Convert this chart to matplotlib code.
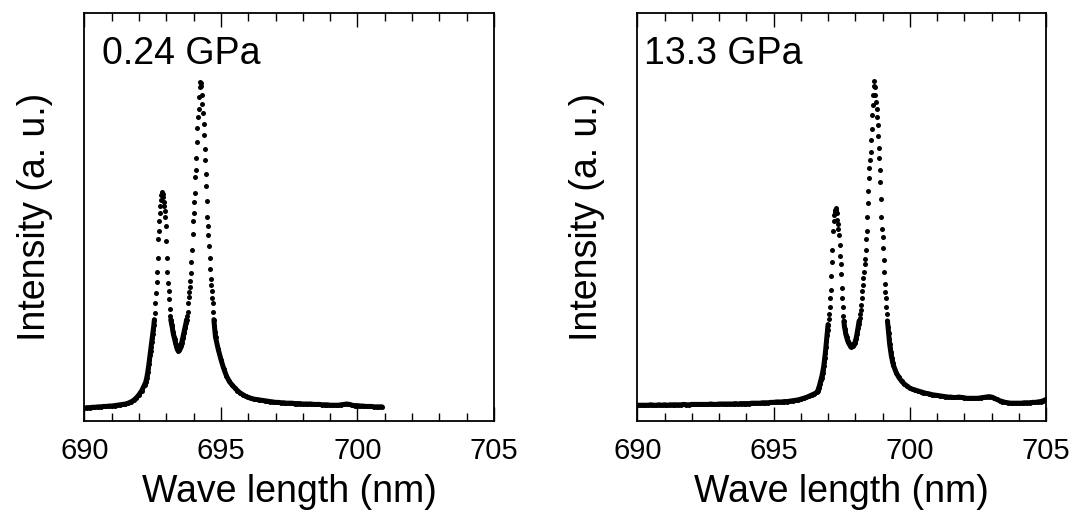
import matplotlib
matplotlib.use('Agg')
import matplotlib.pyplot as plt
import numpy as np
from matplotlib.ticker import MultipleLocator

plt.rcParams['font.family'] = ['Liberation Sans', 'DejaVu Sans']

# ---- data (intensity normalised to the axes height) ----
pressures = ['0.24 GPa', '13.3 GPa']
x_ticks = [690, 695, 700, 705]

# 0.24 GPa
left_x = [
    690.0, 690.1, 690.2, 690.3, 690.4, 690.5, 690.6, 690.7, 690.8, 690.9,
    691.0, 691.1, 691.2, 691.3, 691.4, 691.5, 691.6, 691.7, 691.8, 691.9,
    692.0, 692.1, 692.2,
    692.24, 692.26, 692.28, 692.30, 692.32, 692.34, 692.36, 692.38, 692.40, 692.42,
    692.44, 692.46, 692.48, 692.50, 692.52, 692.54, 692.56, 692.58, 692.60, 692.62,
    692.64, 692.66, 692.68, 692.70, 692.72, 692.74, 692.76, 692.78, 692.80, 692.82,
    692.84, 692.86, 692.88, 692.90, 692.92, 692.94, 692.96, 692.98, 693.00, 693.02,
    693.04, 693.06, 693.08, 693.10, 693.12, 693.14, 693.16, 693.18, 693.20, 693.22,
    693.24, 693.26, 693.28, 693.30, 693.32, 693.34, 693.36, 693.38, 693.40, 693.42,
    693.44, 693.46, 693.48, 693.50, 693.52, 693.54, 693.56, 693.58, 693.60, 693.62,
    693.64, 693.66, 693.68, 693.70, 693.72, 693.74, 693.76, 693.78, 693.80, 693.82,
    693.84, 693.86, 693.88, 693.90, 693.92, 693.94, 693.96, 693.98, 694.00, 694.02,
    694.04, 694.06, 694.08, 694.10, 694.12, 694.14, 694.16, 694.18, 694.20, 694.22,
    694.24, 694.26, 694.28, 694.30, 694.32, 694.34, 694.36, 694.38, 694.40, 694.42,
    694.44, 694.46, 694.48, 694.50, 694.52, 694.54, 694.56, 694.58, 694.60, 694.62,
    694.64, 694.66, 694.68, 694.70, 694.72, 694.74, 694.76, 694.78, 694.80,
    694.9, 695.0, 695.1, 695.2, 695.3, 695.4, 695.5, 695.6, 695.7, 695.8,
    695.9, 696.0, 696.1, 696.2, 696.3, 696.4, 696.5, 696.6, 696.7, 696.8,
    696.9, 697.0, 697.1, 697.2, 697.3, 697.4, 697.5, 697.6, 697.7, 697.8,
    697.9, 698.0, 698.1, 698.2, 698.3, 698.4, 698.5, 698.6, 698.7, 698.8,
    698.9, 699.0, 699.1, 699.2, 699.3, 699.4, 699.5, 699.6, 699.7, 699.8,
    699.9, 700.0, 700.1, 700.2, 700.3, 700.4, 700.5, 700.6, 700.7, 700.8,
    700.9,
]
left_y = [
    .031, .032, .032, .033, .033, .034, .034, .035, .035, .036,
    .036, .037, .038, .039, .040, .041, .043, .046, .050, .056,
    .064, .074, .088,
    .094, .099, .105, .112, .120, .129, .139, .150, .160, .172,
    .182, .192, .202, .212, .222, .234, .248, .265, .288, .313,
    .340, .366, .400, .445, .466, .490, .510, .527, .542, .555,
    .561, .556, .549, .538, .526, .515, .500, .478, .440, .400,
    .365, .338, .318, .298, .275, .258, .248, .241, .235, .228,
    .218, .212, .206, .200, .194, .189, .184, .179, .175, .173,
    .172, .173, .176, .179, .183, .187, .191, .197, .203, .209,
    .215, .221, .227, .233, .240, .248, .256, .268, .290, .303,
    .316, .328, .343, .362, .390, .420, .458, .490, .510, .538,
    .560, .598, .615, .645, .685, .718, .746, .765, .795, .818,
    .832, .830, .822, .800, .778, .756, .728, .702, .668, .640,
    .605, .575, .540, .500, .478, .455, .428, .400, .372, .348,
    .332, .318, .302, .288, .268, .248, .232, .218, .205,
    .175, .150, .128, .110, .097, .088, .081, .074, .068, .064,
    .060, .057, .055, .053, .052, .051, .050, .049, .048, .047,
    .046, .045, .045, .044, .044, .043, .043, .043, .042, .042,
    .042, .041, .041, .041, .041, .040, .040, .040, .039, .039,
    .039, .038, .038, .038, .038, .039, .040, .041, .040, .038,
    .037, .037, .036, .036, .035, .035, .035, .034, .034, .034,
    .034,
]

# 13.3 GPa
right_x = [
    690.0, 690.1, 690.2, 690.3, 690.4, 690.5, 690.6, 690.7, 690.8, 690.9,
    691.0, 691.1, 691.2, 691.3, 691.4, 691.5, 691.6, 691.7, 691.8, 691.9,
    692.0, 692.1, 692.2, 692.3, 692.4, 692.5, 692.6, 692.7, 692.8, 692.9,
    693.0, 693.1, 693.2, 693.3, 693.4, 693.5, 693.6, 693.7, 693.8, 693.9,
    694.0, 694.1, 694.2, 694.3, 694.4, 694.5, 694.6, 694.7, 694.8, 694.9,
    695.0, 695.1, 695.2, 695.3, 695.4, 695.5, 695.6, 695.7, 695.8, 695.9,
    696.0, 696.1, 696.2, 696.3, 696.4, 696.5, 696.6,
    696.62, 696.64, 696.66, 696.68, 696.70, 696.72, 696.74, 696.76, 696.78, 696.80,
    696.82, 696.84, 696.86, 696.88, 696.90, 696.92, 696.94, 696.96, 696.98, 697.00,
    697.02, 697.04, 697.06, 697.08, 697.10, 697.12, 697.14, 697.16, 697.18, 697.20,
    697.22, 697.24, 697.26, 697.28, 697.30, 697.32, 697.34, 697.36, 697.38, 697.40,
    697.42, 697.44, 697.46, 697.48, 697.50, 697.52, 697.54, 697.56, 697.58, 697.60,
    697.62, 697.64, 697.66, 697.68, 697.70, 697.72, 697.74, 697.76, 697.78, 697.80,
    697.82, 697.84, 697.86, 697.88, 697.90, 697.92, 697.94, 697.96, 697.98, 698.00,
    698.02, 698.04, 698.06, 698.08, 698.10, 698.12, 698.14, 698.16, 698.18, 698.20,
    698.22, 698.24, 698.26, 698.28, 698.30, 698.32, 698.34, 698.36, 698.38, 698.40,
    698.42, 698.44, 698.46, 698.48, 698.50, 698.52, 698.54, 698.56, 698.58, 698.60,
    698.62, 698.64, 698.66, 698.68, 698.70, 698.72, 698.74, 698.76, 698.78, 698.80,
    698.82, 698.84, 698.86, 698.88, 698.90, 698.92, 698.94, 698.96, 698.98, 699.00,
    699.02, 699.04, 699.06, 699.08, 699.10, 699.12, 699.14, 699.16, 699.18, 699.20,
    699.22, 699.24, 699.26, 699.28, 699.30, 699.32, 699.34, 699.36, 699.38, 699.40,
    699.5, 699.6, 699.7, 699.8, 699.9, 700.0, 700.1, 700.2, 700.3, 700.4,
    700.5, 700.6, 700.7, 700.8, 700.9, 701.0, 701.1, 701.2, 701.3, 701.4,
    701.5, 701.6, 701.7, 701.8, 701.9, 702.0, 702.1, 702.2, 702.3, 702.4,
    702.5, 702.6, 702.7, 702.8, 702.9, 703.0, 703.1, 703.2, 703.3, 703.4,
    703.5, 703.6, 703.7, 703.8, 703.9, 704.0, 704.1, 704.2, 704.3, 704.4,
    704.5, 704.6, 704.7, 704.8, 704.9, 705.0,
]
right_y = [
    .038, .038, .038, .038, .038, .039, .038, .038, .039, .038,
    .039, .038, .039, .039, .039, .039, .039, .040, .039, .039,
    .040, .040, .040, .040, .040, .040, .040, .041, .040, .040,
    .041, .041, .041, .041, .041, .041, .042, .041, .042, .042,
    .042, .042, .043, .043, .043, .043, .044, .044, .044, .045,
    .045, .046, .046, .046, .047, .047, .048, .049, .050, .051,
    .053, .055, .057, .060, .063, .066, .070,
    .073, .077, .081, .085, .090, .095, .100, .105, .111, .118,
    .125, .133, .143, .155, .166, .180, .196, .210, .222, .236,
    .250, .262, .280, .300, .320, .355, .390, .420, .465, .490,
    .505, .512, .518, .521, .518, .509, .493, .482, .470, .455,
    .432, .405, .385, .360, .325, .300, .280, .258, .244, .232,
    .224, .217, .210, .205, .200, .196, .193, .190, .188, .186,
    .184, .183, .182, .183, .184, .186, .187, .189, .191, .195,
    .200, .205, .212, .220, .228, .237, .245, .253, .262, .272,
    .285, .300, .318, .332, .350, .365, .385, .398, .420, .445,
    .465, .500, .535, .565, .595, .620, .640, .660, .690, .715,
    .750, .775, .800, .822, .834, .818, .800, .782, .765, .745,
    .725, .700, .670, .645, .615, .585, .545, .500, .470, .450,
    .425, .395, .365, .335, .315, .300, .280, .262, .245, .230,
    .215, .200, .188, .178, .168, .160, .153, .147, .141, .136,
    .118, .106, .097, .090, .085, .080, .077, .075, .073, .071,
    .069, .067, .066, .064, .063, .062, .061, .060, .059, .058,
    .058, .057, .057, .058, .057, .056, .055, .055, .055, .055,
    .055, .056, .057, .058, .059, .058, .055, .052, .049, .047,
    .045, .044, .043, .043, .043, .043, .043, .044, .044, .044,
    .045, .045, .046, .047, .049, .052,
]


def draw_panel(ax, x, y, label, label_x):
    x = np.array(x)
    y = np.array(y)
    # the dense low part of the spectrum reads as a thick band in the original
    band = np.where(y < 0.25, y, np.nan)
    ax.plot(x, band, '-', color='black', lw=3.6, solid_capstyle='round')
    ax.plot(x, y, 'o', color='black', markersize=3.6, markeredgewidth=0)
    ax.set_xlim(690, 705)
    ax.set_ylim(0, 1)
    ax.set_xticks(x_ticks)
    ax.xaxis.set_minor_locator(MultipleLocator(1))
    ax.set_yticks([])
    ax.tick_params(axis='x', which='both', direction='in', top=True,
                   labelsize=21, pad=12, width=1)
    ax.tick_params(axis='x', which='major', length=10)
    ax.tick_params(axis='x', which='minor', length=5.5)
    for s in ax.spines.values():
        s.set_linewidth(1.3)
    ax.set_xlabel('Wave length (nm)', fontsize=27, labelpad=6)
    ax.set_ylabel('Intensity (a. u.)', fontsize=27, labelpad=23)
    ax.text(label_x, 0.875, label, transform=ax.transAxes, fontsize=27)


fig = plt.figure(figsize=(10.72, 5.17), dpi=100)
ax1 = fig.add_axes([0.0788, 0.1863, 0.382, 0.788])
ax2 = fig.add_axes([0.5945, 0.1863, 0.3813, 0.788])

draw_panel(ax1, left_x, left_y, pressures[0], 0.043)
draw_panel(ax2, right_x, right_y, pressures[1], 0.017)

fig.savefig('out.png', dpi=100)
